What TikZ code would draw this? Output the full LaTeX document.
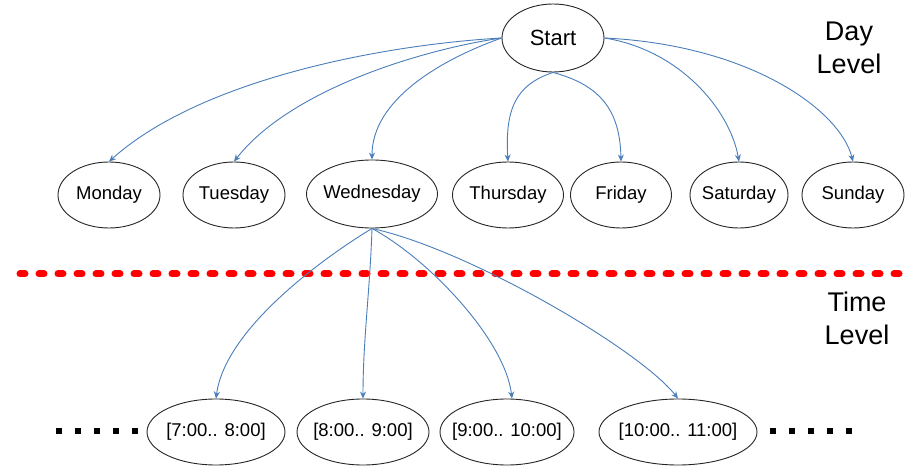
\documentclass[tikz,border=0pt]{standalone}
\usepackage{fontspec}
\setmainfont{Liberation Sans}
\usetikzlibrary{shapes.geometric,arrows.meta}
\definecolor{edgeblue}{RGB}{74,126,187}
\begin{document}
\begin{tikzpicture}[x=1pt,y=-1pt,
  oval/.style={draw=black!85,line width=0.9pt,ellipse,inner xsep=-14pt,inner ysep=0pt,minimum height=66pt,font=\fontsize{18.5}{20}\selectfont},
  edge/.style={draw=edgeblue,line width=0.9pt,-{Stealth[length=7pt,width=6pt]}},
  lvl/.style={font=\fontsize{27}{33}\selectfont,align=center}]
\useasboundingbox (0,0) rectangle (914,470);
\fill[white] (0,0) rectangle (914,470);
% nodes
\node[oval,minimum width=102pt,minimum height=68pt,font=\fontsize{22}{24}\selectfont] (start) at (553,38) {Start};
\node[oval,minimum width=102pt] (mon) at (109,195) {Monday};
\node[oval,minimum width=102pt] (tue) at (234,195) {Tuesday};
\node[oval,minimum width=131pt,minimum height=68pt] (wed) at (372,194) {Wednesday};
\node[oval,minimum width=111pt] (thu) at (508,195) {Thursday};
\node[oval,minimum width=101pt] (fri) at (621,195) {Friday};
\node[oval,minimum width=98pt] (sat) at (739,195) {Saturday};
\node[oval,minimum width=102pt] (sun) at (853,195) {Sunday};
\node[oval,minimum width=138pt] (t7) at (216,432) {[7:00.. 8:00]};
\node[oval,minimum width=132pt] (t8) at (363,432) {[8:00.. 9:00]};
\node[oval,minimum width=134pt] (t9) at (507,432) {[9:00.. 10:00]};
\node[oval,minimum width=158pt] (t10) at (678,432) {[10:00.. 11:00]};
\node[lvl] (daylvl) at (849,48) {Day\\Level};
\node[lvl] (timelvl) at (857,318) {Time\\Level};
% separator
\draw[red,line width=7pt,line cap=round,dash pattern=on 5pt off 14pt] (20,274) -- (912,274);
% dots
\draw[black,line width=6pt,dash pattern=on 6pt off 13pt] (56,431) -- (140,431);
\draw[black,line width=6pt,dash pattern=on 6pt off 13pt] (770,431) -- (854,431);
% edges from start
\draw[edge] (start.west) .. controls (380,45) and (200,80) .. (mon.north);
\draw[edge] (start.west) .. controls (420,50) and (290,90) .. (tue.north);
\draw[edge] (start.west) .. controls (440,60) and (372,100) .. (wed.north);
\draw[edge] (start.south) .. controls (515,85) and (505,110) .. (thu.north);
\draw[edge] (start.south) .. controls (600,85) and (620,110) .. (fri.north);
\draw[edge] (start.east) .. controls (680,50) and (730,110) .. (sat.north);
\draw[edge] (start.east) .. controls (750,45) and (840,110) .. (sun.north);
% edges from wednesday
\draw[edge] (wed.south) .. controls (320,260) and (225,330) .. (t7.north);
\draw[edge] (wed.south) .. controls (370,290) and (363,340) .. (t8.north);
\draw[edge] (wed.south) .. controls (430,260) and (505,340) .. ([xshift=5pt]t9.north);
\draw[edge] (wed.south) .. controls (470,250) and (640,350) .. (t10.north);
\end{tikzpicture}
\end{document}
